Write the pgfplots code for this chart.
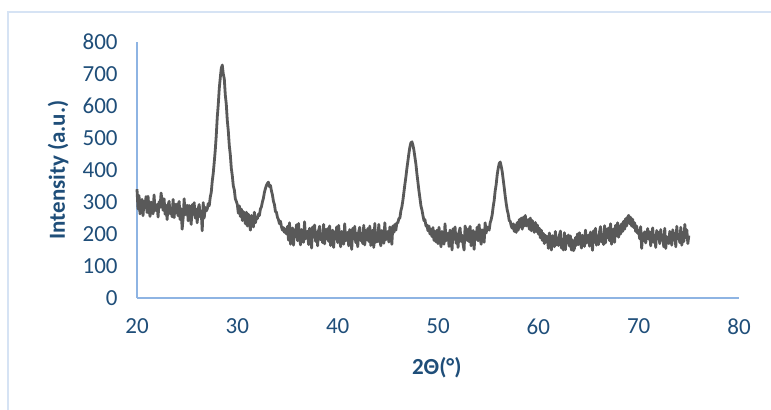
\documentclass[border=0pt]{standalone}
\usepackage{pgfplots}
\pgfplotsset{compat=1.18}
\usepackage{fontspec}
\setmainfont{Carlito}

\definecolor{txtblue}{HTML}{1F4E79}
\definecolor{axblue}{HTML}{8EB4E3}
\definecolor{frameblue}{HTML}{D6E3F4}
\definecolor{curve}{HTML}{595959}

\begin{document}
\begin{tikzpicture}
  % page = 771 x 410 px, 1 px = 0.75pt
  \useasboundingbox (0,0) rectangle (578.25pt,307.5pt);
  \draw[frameblue, line width=1pt] (6pt,0) -- (6pt,298.5pt) -- (578.25pt,298.5pt);

  \begin{axis}[
      at={(102.75pt,84pt)}, anchor=south west,
      scale only axis,
      width=451.5pt, height=192pt,
      xmin=20, xmax=80, ymin=0, ymax=800,
      xtick={20,30,...,80},
      ytick={0,100,...,800},
      axis x line*=bottom, axis y line*=left,
      axis line style={axblue, line width=1pt, -},
      major tick length=0pt,
      tick label style={font=\fontsize{17.25}{20}\selectfont, text=txtblue},
      /pgf/number format/assume math mode=true,
      xticklabel style={yshift=-12pt},
      yticklabel style={xshift=-11pt},
      xlabel={\textbf{2Θ(°)}},
      ylabel={\textbf{Intensity (a.u.)}},
      label style={font=\fontsize{17.25}{20}\selectfont, text=txtblue},
      xlabel style={at={(axis description cs:0.498,-0.273)}, anchor=center},
      ylabel style={at={(axis description cs:-0.131,0.5)}, anchor=center, rotate=0},
      clip=false,
    ]
    \addplot[curve, line width=2.1pt, line join=round] coordinates {
      (20.0,340)(20.1,278)(20.2,320)(20.3,263)(20.4,298)(20.5,308)(20.6,257)(20.7,302)(20.8,283)(20.9,317)
      (21.0,267)(21.1,318)(21.2,276)(21.3,255)(21.4,300)(21.5,290)(21.6,263)(21.7,322)(21.8,273)(21.9,282)
      (22.0,292)(22.1,253)(22.2,301)(22.3,283)(22.4,328)(22.5,304)(22.6,274)(22.7,310)(22.8,262)(22.9,289)
      (23.0,245)(23.1,290)(23.2,302)(23.3,263)(23.4,281)(23.5,254)(23.6,308)(23.7,251)(23.8,293)(23.9,266)
      (24.0,294)(24.1,257)(24.2,302)(24.3,245)(24.4,279)(24.5,215)(24.6,250)(24.7,310)(24.8,260)(24.9,269)
      (25.0,290)(25.1,241)(25.2,289)(25.3,271)(25.4,230)(25.5,292)(25.6,262)(25.7,298)(25.8,250)(25.9,277)
      (26.0,235)(26.1,280)(26.2,292)(26.3,253)(26.4,271)(26.5,210)(26.6,298)(26.7,250)(26.8,283)(26.9,272)
      (27.0,278)(27.1,295)(27.2,288)(27.3,315)(27.4,330)(27.5,365)(27.6,390)(27.7,425)(27.8,462)(27.9,508)
      (28.0,565)(28.1,605)(28.2,655)(28.3,688)(28.4,718)(28.5,728)(28.6,700)(28.7,685)(28.8,635)(28.9,605)
      (29.0,555)(29.1,522)(29.2,476)(29.3,448)(29.4,405)(29.5,382)(29.6,350)(29.7,338)(29.8,310)(29.9,302)
      (30.0,292)(30.1,265)(30.2,288)(30.3,255)(30.4,278)(30.5,242)(30.6,270)(30.7,255)(30.8,232)(30.9,268)
      (31.0,225)(31.1,262)(31.2,238)(31.3,212)(31.4,258)(31.5,248)(31.6,222)(31.7,268)(31.8,235)(31.9,252)
      (32.0,248)(32.1,262)(32.2,258)(32.3,278)(32.4,285)(32.5,300)(32.6,312)(32.7,330)(32.8,342)(32.9,352)
      (33.0,358)(33.1,362)(33.2,348)(33.3,352)(33.4,335)(33.5,322)(33.6,302)(33.7,292)(33.8,270)(33.9,268)
      (34.0,252)(34.1,245)(34.2,232)(34.3,240)(34.4,222)(34.5,212)(34.6,220)(34.7,205)(34.8,215)(34.9,200)
      (35.0,224)(35.1,181)(35.2,235)(35.3,168)(35.4,208)(35.5,219)(35.6,165)(35.7,213)(35.8,192)(35.9,229)
      (36.0,179)(36.1,233)(36.2,188)(36.3,166)(36.4,214)(36.5,203)(36.6,174)(36.7,238)(36.8,185)(36.9,195)
      (37.0,209)(37.1,167)(37.2,218)(37.3,199)(37.4,156)(37.5,222)(37.6,190)(37.7,228)(37.8,177)(37.9,206)
      (38.0,163)(38.1,211)(38.2,224)(38.3,182)(38.4,201)(38.5,173)(38.6,230)(38.7,169)(38.8,214)(38.9,185)
      (39.0,217)(39.1,177)(39.2,225)(39.3,164)(39.4,201)(39.5,212)(39.6,158)(39.7,206)(39.8,185)(39.9,222)
      (40.0,173)(40.1,227)(40.2,182)(40.3,160)(40.4,208)(40.5,197)(40.6,168)(40.7,232)(40.8,179)(40.9,189)
      (41.0,205)(41.1,163)(41.2,214)(41.3,195)(41.4,152)(41.5,218)(41.6,186)(41.7,224)(41.8,173)(41.9,202)
      (42.0,160)(42.1,208)(42.2,221)(42.3,179)(42.4,198)(42.5,170)(42.6,227)(42.7,166)(42.8,211)(42.9,182)
      (43.0,217)(43.1,177)(43.2,225)(43.3,164)(43.4,201)(43.5,212)(43.6,158)(43.7,233)(43.8,174)(43.9,196)
      (44.0,176)(44.1,230)(44.2,185)(44.3,163)(44.4,211)(44.5,200)(44.6,171)(44.7,235)(44.8,182)(44.9,192)
      (45.0,208)(45.1,175)(45.2,222)(45.3,200)(45.4,168)(45.5,225)(45.6,205)(45.7,230)(45.8,212)(45.9,235)
      (46.0,235)(46.1,248)(46.2,250)(46.3,272)(46.4,285)(46.5,305)(46.6,330)(46.7,355)(46.8,378)(46.9,405)
      (47.0,428)(47.1,452)(47.2,472)(47.3,485)(47.4,488)(47.5,478)(47.6,462)(47.7,440)(47.8,418)(47.9,388)
      (48.0,362)(48.1,335)(48.2,312)(48.3,288)(48.4,275)(48.5,258)(48.6,242)(48.7,245)(48.8,225)(48.9,228)
      (49.0,210)(49.1,225)(49.2,200)(49.3,215)(49.4,192)(49.5,220)(49.6,180)(49.7,208)(49.8,175)(49.9,212)
      (50.0,170)(50.1,221)(50.2,182)(50.3,160)(50.4,208)(50.5,197)(50.6,168)(50.7,232)(50.8,179)(50.9,189)
      (51.0,203)(51.1,161)(51.2,212)(51.3,193)(51.4,150)(51.5,216)(51.6,184)(51.7,222)(51.8,171)(51.9,200)
      (52.0,158)(52.1,206)(52.2,219)(52.3,177)(52.4,196)(52.5,168)(52.6,150)(52.7,225)(52.8,209)(52.9,180)
      (53.0,216)(53.1,176)(53.2,224)(53.3,163)(53.4,200)(53.5,211)(53.6,152)(53.7,205)(53.8,184)(53.9,221)
      (54.0,179)(54.1,229)(54.2,187)(54.3,168)(54.4,213)(54.5,200)(54.6,174)(54.7,235)(54.8,203)(54.9,222)
      (55.0,218)(55.1,212)(55.2,235)(55.3,245)(55.4,260)(55.5,285)(55.6,305)(55.7,335)(55.8,355)(55.9,385)
      (56.0,405)(56.1,420)(56.2,425)(56.3,412)(56.4,395)(56.5,370)(56.6,345)(56.7,318)(56.8,295)(56.9,275)
      (57.0,262)(57.1,242)(57.2,240)(57.3,225)(57.4,218)(57.5,232)(57.6,208)(57.7,228)(57.8,205)(57.9,236)
      (58.0,212)(58.1,245)(58.2,222)(58.3,250)(58.4,215)(58.5,252)(58.6,225)(58.7,258)(58.8,225)(58.9,240)
      (59.0,245)(59.1,215)(59.2,250)(59.3,210)(59.4,242)(59.5,225)(59.6,205)(59.7,236)(59.8,208)(59.9,228)
      (60.0,200)(60.1,218)(60.2,188)(60.3,212)(60.4,180)(60.5,202)(60.6,170)(60.7,196)(60.8,175)(60.9,192)
      (61.0,155)(61.1,203)(61.2,171)(61.3,150)(61.4,195)(61.5,187)(61.6,160)(61.7,208)(61.8,166)(61.9,188)
      (62.0,164)(62.1,196)(62.2,209)(62.3,156)(62.4,183)(62.5,150)(62.6,204)(62.7,151)(62.8,193)(62.9,172)
      (63.0,197)(63.1,162)(63.2,194)(63.3,150)(63.4,181)(63.5,148)(63.6,155)(63.7,189)(63.8,165)(63.9,200)
      (64.0,167)(64.1,204)(64.2,177)(64.3,156)(64.4,196)(64.5,185)(64.6,161)(64.7,212)(64.8,172)(64.9,183)
      (65.0,197)(65.1,162)(65.2,206)(65.3,187)(65.4,149)(65.5,210)(65.6,174)(65.7,218)(65.8,165)(65.9,194)
      (66.0,167)(66.1,207)(66.2,223)(66.3,175)(66.4,198)(66.5,167)(66.6,226)(66.7,172)(66.8,215)(66.9,188)
      (67.0,219)(67.1,179)(67.2,232)(67.3,168)(67.4,203)(67.5,216)(67.6,174)(67.7,227)(67.8,195)(67.9,235)
      (68.0,190)(68.1,225)(68.2,200)(68.3,232)(68.4,208)(68.5,240)(68.6,215)(68.7,248)(68.8,225)(68.9,252)
      (69.0,258)(69.1,232)(69.2,252)(69.3,225)(69.4,246)(69.5,220)(69.6,235)(69.7,208)(69.8,225)(69.9,202)
      (70.0,212)(70.1,185)(70.2,223)(70.3,155)(70.4,201)(70.5,180)(70.6,207)(70.7,172)(70.8,196)(70.9,217)
      (71.0,184)(71.1,206)(71.2,163)(71.3,200)(71.4,219)(71.5,174)(71.6,195)(71.7,158)(71.8,211)(71.9,187)
      (72.0,205)(72.1,170)(72.2,214)(72.3,181)(72.4,197)(72.5,160)(72.6,218)(72.7,155)(72.8,192)(72.9,181)
      (73.0,170)(73.1,208)(73.2,189)(73.3,165)(73.4,213)(73.5,181)(73.6,202)(73.7,160)(73.8,224)(73.9,186)
      (74.0,197)(74.1,173)(74.2,221)(74.3,165)(74.4,205)(74.5,176)(74.6,230)(74.7,189)(74.8,213)(74.9,170)
      (75.0,195)
    };
  \end{axis}
\end{tikzpicture}
\end{document}
